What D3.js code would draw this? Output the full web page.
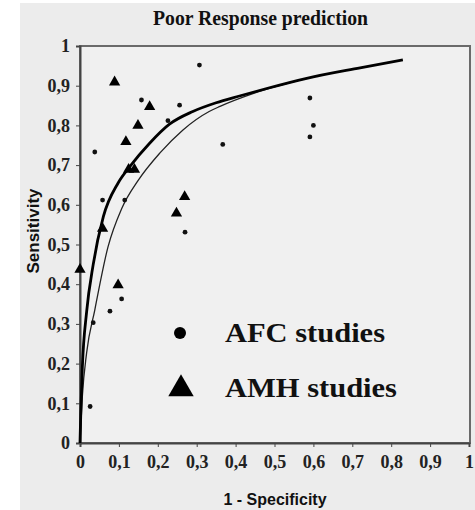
<!DOCTYPE html>
<html lang="en">
  <head>
    <meta charset="utf-8">
    <title>Poor Response prediction</title>
    <style>
      body { margin: 0; background: #ffffff; }
      svg { display: block; }
      .tick text { font-family: "Liberation Serif", serif; font-weight: bold; fill: #222; }
    </style>
  </head>
  <body>
    <svg width="475" height="510"></svg>
    <script src="https://cdn.jsdelivr.net/npm/d3@7"></script>
    <script>
      // points: [1 - specificity, sensitivity]
      var afcStudies = [
        [0.307, 0.952], [0.158, 0.864], [0.256, 0.851], [0.226, 0.812],
        [0.038, 0.733], [0.367, 0.752], [0.058, 0.612], [0.115, 0.612],
        [0.27, 0.531], [0.077, 0.332], [0.107, 0.363], [0.034, 0.303],
        [0.026, 0.092], [0.591, 0.869], [0.6, 0.80], [0.591, 0.771]
      ];
      var amhStudies = [
        [0.089, 0.909], [0.179, 0.847], [0.149, 0.80], [0.118, 0.759],
        [0.125, 0.689], [0.14, 0.689], [0.269, 0.62], [0.248, 0.579],
        [0.058, 0.54], [0.0, 0.437], [0.098, 0.398]
      ];
      // fitted SROC curves
      var thickCurve = [
        [0, 0], [0.002, 0.075], [0.006, 0.19], [0.017, 0.33], [0.034, 0.45],
        [0.06, 0.57], [0.098, 0.655], [0.128, 0.696], [0.179, 0.755],
        [0.23, 0.803], [0.29, 0.835], [0.35, 0.857], [0.41, 0.874],
        [0.48, 0.893], [0.58, 0.918], [0.72, 0.945], [0.83, 0.965]
      ];
      var thinCurve = [
        [0, 0], [0.006, 0.117], [0.017, 0.227], [0.038, 0.335], [0.072, 0.494],
        [0.107, 0.59], [0.15, 0.662], [0.205, 0.73], [0.264, 0.788],
        [0.332, 0.835], [0.36, 0.848], [0.45, 0.882], [0.58, 0.918]
      ];
      var xTicks = [0, 0.1, 0.2, 0.3, 0.4, 0.5, 0.6, 0.7, 0.8, 0.9, 1];
      var yTicks = [0, 0.1, 0.2, 0.3, 0.4, 0.5, 0.6, 0.7, 0.8, 0.9, 1];
      var legendItems = ["AFC studies", "AMH studies"];

      var svg = d3.select("svg");
      var x = d3.scaleLinear().domain([0, 1]).range([80, 469]);
      var y = d3.scaleLinear().domain([0, 1]).range([443, 46]);
      var fmt = d => (d === 0 || d === 1) ? String(d) : d.toFixed(1).replace(".", ",");

      // background: grey panel with a white strip on the left
      svg.append("rect").attr("x", 0).attr("y", 0).attr("width", 475).attr("height", 510).attr("fill", "#ffffff");
      svg.append("rect").attr("x", 20).attr("y", 3).attr("width", 455).attr("height", 507).attr("fill", "#ececec");
      svg.append("rect")
        .attr("x", x(0)).attr("y", y(1))
        .attr("width", x(1) - x(0) + 1).attr("height", y(0) - y(1))
        .attr("fill", "#f0f0f0")
        .attr("stroke", "#6a6a6a")
        .attr("stroke-width", 2);

      svg.append("text")
        .attr("x", 153).attr("y", 25)
        .attr("textLength", 215)
        .attr("lengthAdjust", "spacingAndGlyphs")
        .style("font-family", "Liberation Serif, serif")
        .style("font-weight", "bold")
        .style("font-size", "21px")
        .attr("fill", "#111")
        .text("Poor Response prediction");

      var xAxis = svg.append("g")
        .attr("transform", "translate(0," + y(0) + ")")
        .call(d3.axisBottom(x).tickValues(xTicks).tickFormat(fmt).tickSize(4).tickPadding(8));
      xAxis.select(".domain").attr("stroke", "#444").attr("stroke-width", 2);
      xAxis.selectAll(".tick line").attr("stroke", "#444");
      xAxis.selectAll(".tick text").style("font-size", "18px");

      var yAxis = svg.append("g")
        .attr("transform", "translate(" + x(0) + ",0)")
        .call(d3.axisLeft(y).tickValues(yTicks).tickFormat(fmt).tickSize(4).tickPadding(6));
      yAxis.select(".domain").attr("stroke", "#444").attr("stroke-width", 2);
      yAxis.selectAll(".tick line").attr("stroke", "#444");
      yAxis.selectAll(".tick text").style("font-size", "18px");

      svg.append("text")
        .attr("x", 275).attr("y", 505)
        .attr("text-anchor", "middle")
        .style("font-family", "Liberation Sans, Arial, sans-serif")
        .style("font-weight", "bold")
        .style("font-size", "16px")
        .attr("fill", "#111")
        .text("1 - Specificity");

      svg.append("text")
        .attr("transform", "translate(39,231) rotate(-90)")
        .attr("text-anchor", "middle")
        .style("font-family", "Liberation Sans, Arial, sans-serif")
        .style("font-weight", "bold")
        .style("font-size", "17px")
        .attr("fill", "#111")
        .text("Sensitivity");

      var line = d3.line()
        .x(d => x(d[0]))
        .y(d => y(d[1]))
        .curve(d3.curveMonotoneX);

      svg.append("path")
        .datum(thinCurve)
        .attr("d", line)
        .attr("fill", "none")
        .attr("stroke", "#222")
        .attr("stroke-width", 1.3);

      svg.append("path")
        .datum(thickCurve)
        .attr("d", line)
        .attr("fill", "none")
        .attr("stroke", "#000")
        .attr("stroke-width", 2.8)
        .attr("stroke-linejoin", "round");

      svg.append("g")
        .selectAll("circle")
        .data(afcStudies)
        .enter()
        .append("circle")
        .attr("cx", d => x(d[0]))
        .attr("cy", d => y(d[1]))
        .attr("r", 2.4)
        .attr("fill", "#111");

      var tri = d3.symbol().type(d3.symbolTriangle).size(55);
      svg.append("g")
        .selectAll("path")
        .data(amhStudies)
        .enter()
        .append("path")
        .attr("d", tri)
        .attr("transform", d => "translate(" + x(d[0]) + "," + y(d[1]) + ")")
        .attr("fill", "#000");

      // legend
      var legend = svg.append("g").attr("id", "legend");
      legend.append("circle").attr("cx", 180).attr("cy", 333).attr("r", 6).attr("fill", "#000");
      legend.append("path")
        .attr("d", d3.symbol().type(d3.symbolTriangle).size(280))
        .attr("transform", "translate(181,389)")
        .attr("fill", "#000");
      legend.selectAll("text")
        .data(legendItems)
        .enter()
        .append("text")
        .attr("x", 225)
        .attr("y", (d, i) => 342 + i * 55)
        .attr("textLength", (d, i) => i ? 172 : 160)
        .attr("lengthAdjust", "spacingAndGlyphs")
        .style("font-family", "Liberation Serif, serif")
        .style("font-weight", "bold")
        .style("font-size", "27px")
        .attr("fill", "#111")
        .text(d => d);
    </script>
  </body>
</html>
